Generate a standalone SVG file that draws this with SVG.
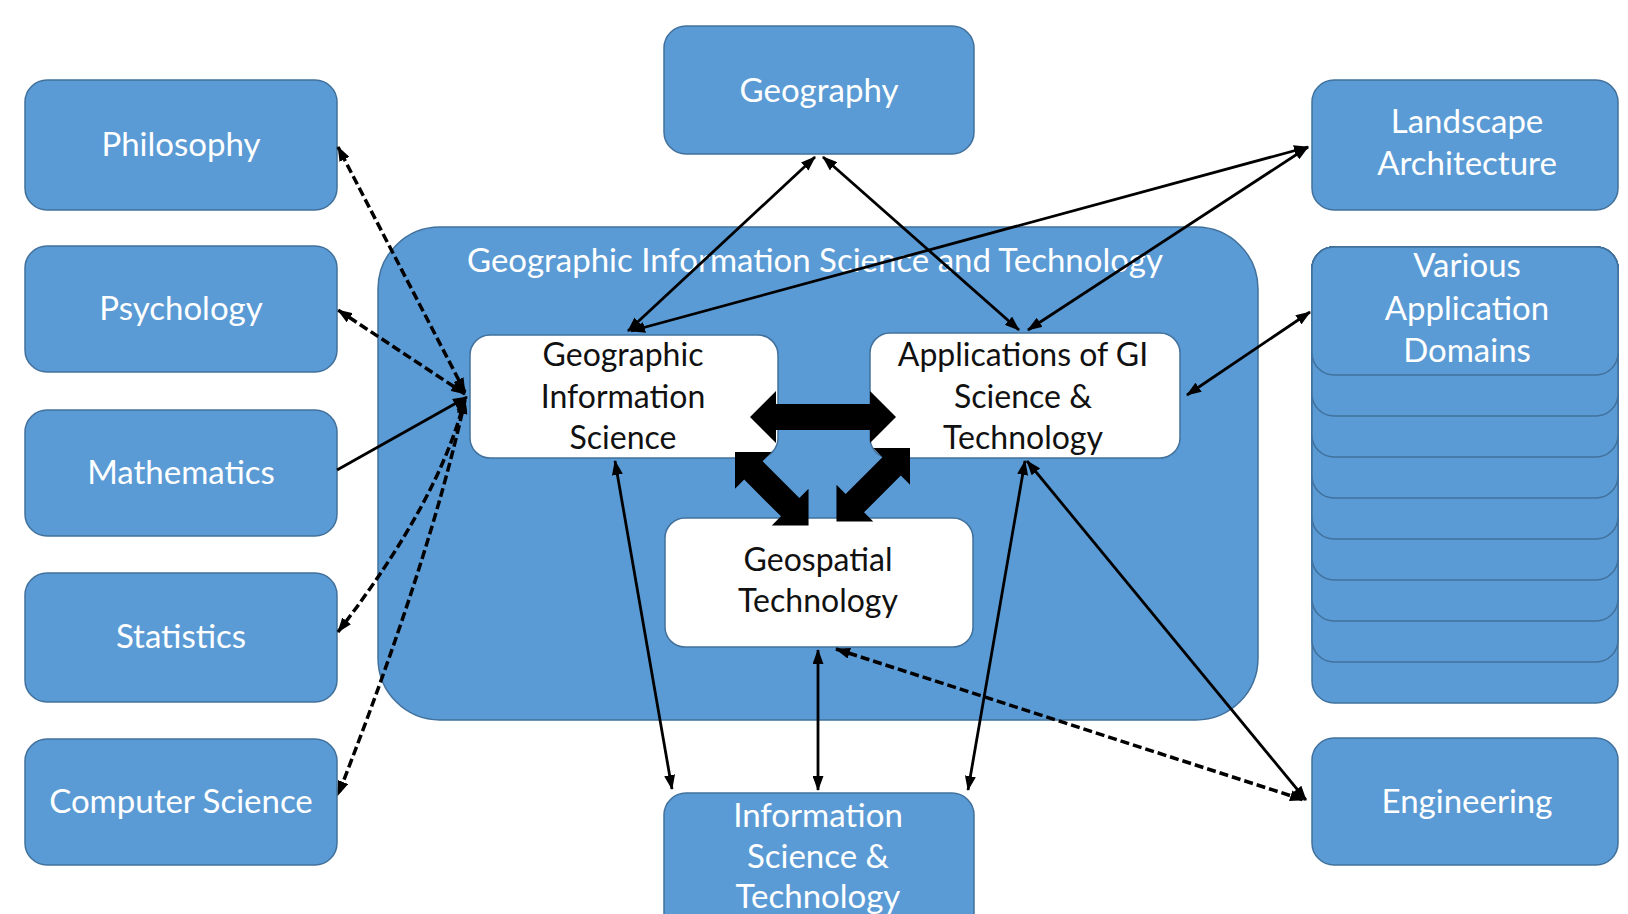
<svg xmlns="http://www.w3.org/2000/svg" width="1628" height="914" viewBox="0 0 1628 914">
<defs>
<style>
.b{fill:#5b9bd5;stroke:#41719c;stroke-width:1.5}
.w{fill:#ffffff;stroke:#41719c;stroke-width:1.5}
.tw{fill:#ffffff;font-family:Lato,"Open Sans",sans-serif;font-size:33px;text-anchor:middle}
.tk{fill:#111111;font-family:Lato,"Open Sans",sans-serif;font-size:32px;text-anchor:middle}
.ln{fill:none;stroke:#000;stroke-width:2.8}
.dl{fill:none;stroke:#000;stroke-width:3.5;stroke-dasharray:9 4}
.blk{fill:#000}
</style>
<marker id="ah" viewBox="0 0 15 11" refX="14" refY="5.5" markerWidth="15" markerHeight="11" markerUnits="userSpaceOnUse" orient="auto-start-reverse"><path d="M0,0 L15,5.5 L0,11 z" fill="#000"/></marker>
</defs>
<rect width="1628" height="914" fill="#ffffff"/>

<g id="container">
<rect class="b" x="378" y="227" width="880" height="493" rx="62"/>
<text class="tw" x="815" y="272" textLength="696" lengthAdjust="spacingAndGlyphs">Geographic Information Science and Technology</text>
</g>

<g id="philosophy"><rect class="b" x="25" y="80" width="312" height="130" rx="22"/><text class="tw" x="181" y="156">Philosophy</text></g>
<g id="psychology"><rect class="b" x="25" y="246" width="312" height="126" rx="22"/><text class="tw" x="181" y="320">Psychology</text></g>
<g id="mathematics"><rect class="b" x="25" y="410" width="312" height="126" rx="22"/><text class="tw" x="181" y="484">Mathematics</text></g>
<g id="statistics"><rect class="b" x="25" y="573" width="312" height="129" rx="22"/><text class="tw" x="181" y="648">Statistics</text></g>
<g id="computer-science"><rect class="b" x="25" y="739" width="312" height="126" rx="22"/><text class="tw" x="181" y="813">Computer Science</text></g>

<g id="geography"><rect class="b" x="664" y="26" width="310" height="128" rx="22"/><text class="tw" x="819" y="102">Geography</text></g>

<g id="landscape-architecture"><rect class="b" x="1312" y="80" width="306" height="130" rx="22"/><text class="tw" x="1467" y="133">Landscape</text><text class="tw" x="1467" y="175">Architecture</text></g>

<g id="various-application-domains">
<rect class="b" x="1312" y="247" width="306" height="456" rx="22"/>
<rect class="b" x="1312" y="247" width="306" height="415" rx="22"/>
<rect class="b" x="1312" y="247" width="306" height="374" rx="22"/>
<rect class="b" x="1312" y="247" width="306" height="333" rx="22"/>
<rect class="b" x="1312" y="247" width="306" height="292" rx="22"/>
<rect class="b" x="1312" y="247" width="306" height="251" rx="22"/>
<rect class="b" x="1312" y="247" width="306" height="210" rx="22"/>
<rect class="b" x="1312" y="247" width="306" height="169" rx="22"/>
<rect class="b" x="1312" y="247" width="306" height="128" rx="22"/>
<text class="tw" x="1467" y="277">Various</text><text class="tw" x="1467" y="320">Application</text><text class="tw" x="1467" y="362">Domains</text>
</g>

<g id="engineering"><rect class="b" x="1312" y="738" width="306" height="127" rx="22"/><text class="tw" x="1467" y="813">Engineering</text></g>

<g id="information-science-technology"><rect class="b" x="664" y="793" width="310" height="160" rx="22"/><text class="tw" x="818" y="827">Information</text><text class="tw" x="818" y="868">Science &amp;</text><text class="tw" x="818" y="908">Technology</text></g>

<g id="gis"><rect class="w" x="470" y="335" width="308" height="123" rx="20"/><text class="tk" x="623" y="366">Geographic</text><text class="tk" x="623" y="408">Information</text><text class="tk" x="623" y="449">Science</text></g>

<g id="applications"><rect class="w" x="870" y="333" width="310" height="125" rx="20"/><text class="tk" x="1023" y="366">Applications of GI</text><text class="tk" x="1023" y="408">Science &amp;</text><text class="tk" x="1023" y="449">Technology</text></g>

<g id="geospatial"><rect class="w" x="665" y="518" width="308" height="129" rx="20"/><text class="tk" x="818" y="571">Geospatial</text><text class="tk" x="818" y="612">Technology</text></g>

<g id="connectors">
<path class="ln" d="M628,331 L815,157" marker-start="url(#ah)" marker-end="url(#ah)"/>
<path class="ln" d="M823,157 L1019,330" marker-start="url(#ah)" marker-end="url(#ah)"/>
<path class="ln" d="M631,331 L1308,147" marker-start="url(#ah)" marker-end="url(#ah)"/>
<path class="ln" d="M1028,330 L1308,147" marker-start="url(#ah)" marker-end="url(#ah)"/>
<path class="ln" d="M1187,395 L1310,312" marker-start="url(#ah)" marker-end="url(#ah)"/>
<path class="ln" d="M615,461 L672,789" marker-start="url(#ah)" marker-end="url(#ah)"/>
<path class="ln" d="M818,650 L818,790" marker-start="url(#ah)" marker-end="url(#ah)"/>
<path class="ln" d="M1025,461 L968,790" marker-start="url(#ah)" marker-end="url(#ah)"/>
<path class="ln" d="M1027,461 L1306,800" marker-start="url(#ah)" marker-end="url(#ah)"/>
<path class="dl" d="M836,649 L1304,800" marker-start="url(#ah)" marker-end="url(#ah)"/>
<path class="ln" d="M337,470 L467,397" marker-end="url(#ah)"/>
<path class="dl" d="M465,392 L338,147" marker-start="url(#ah)" marker-end="url(#ah)"/>
<path class="dl" d="M465,394 L338,310" marker-start="url(#ah)" marker-end="url(#ah)"/>
<path class="dl" d="M465,398 Q440,500 338,632" marker-start="url(#ah)" marker-end="url(#ah)"/>
<path class="dl" d="M465,400 Q430,560 338,795" marker-start="url(#ah)" marker-end="url(#ah)"/>
<polygon class="blk" transform="translate(750,417)" points="0,0 26,-26 26,-13 120,-13 120,-26 146,0 120,26 120,13 26,13 26,26"/>
<polygon class="blk" transform="translate(735,452) rotate(45)" points="0,0 26,-26 26,-13 78,-13 78,-26 104,0 78,26 78,13 26,13 26,26"/>
<polygon class="blk" transform="translate(910,448) rotate(135)" points="0,0 26,-26 26,-13 78,-13 78,-26 104,0 78,26 78,13 26,13 26,26"/>
</g>
</svg>
